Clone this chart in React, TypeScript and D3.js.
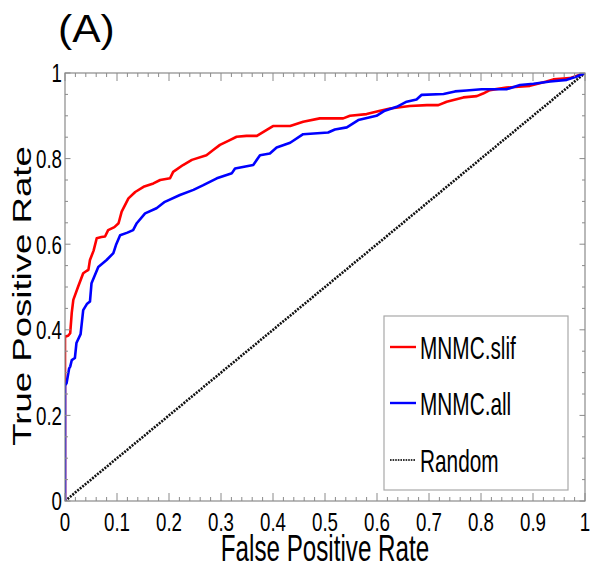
import React from "react";
import * as d3 from "d3";

// ---- data ----
const slifFpr = [0, 0, 0.006, 0.01, 0.013, 0.016, 0.025, 0.035, 0.042, 0.045, 0.048, 0.055, 0.061, 0.07, 0.077, 0.083, 0.095, 0.103, 0.109, 0.122, 0.135, 0.151, 0.17, 0.183, 0.202, 0.208, 0.227, 0.244, 0.272, 0.285, 0.298, 0.315, 0.33, 0.349, 0.369, 0.388, 0.4, 0.433, 0.458, 0.49, 0.535, 0.548, 0.58, 0.606, 0.625, 0.663, 0.696, 0.718, 0.734, 0.766, 0.792, 0.804, 0.817, 0.849, 0.894, 0.926, 0.939, 0.971, 1];
const slifTpr = [0, 0.384, 0.386, 0.392, 0.44, 0.47, 0.5, 0.532, 0.538, 0.54, 0.563, 0.585, 0.614, 0.617, 0.618, 0.633, 0.64, 0.649, 0.676, 0.707, 0.722, 0.734, 0.742, 0.75, 0.754, 0.769, 0.785, 0.797, 0.808, 0.82, 0.832, 0.842, 0.851, 0.853, 0.853, 0.867, 0.876, 0.876, 0.886, 0.894, 0.894, 0.9, 0.904, 0.912, 0.917, 0.923, 0.925, 0.925, 0.933, 0.943, 0.946, 0.952, 0.96, 0.966, 0.97, 0.98, 0.985, 0.988, 1];

const allFpr = [0, 0, 0.003, 0.008, 0.01, 0.013, 0.019, 0.022, 0.03, 0.035, 0.042, 0.048, 0.051, 0.064, 0.08, 0.093, 0.098, 0.106, 0.12, 0.131, 0.138, 0.154, 0.176, 0.192, 0.221, 0.247, 0.266, 0.292, 0.321, 0.327, 0.362, 0.375, 0.394, 0.407, 0.433, 0.458, 0.506, 0.519, 0.542, 0.564, 0.599, 0.615, 0.638, 0.657, 0.676, 0.686, 0.728, 0.75, 0.772, 0.801, 0.849, 0.875, 0.901, 0.933, 0.965, 0.984, 1];
const allTpr = [0, 0.27, 0.275, 0.31, 0.314, 0.329, 0.334, 0.369, 0.39, 0.446, 0.46, 0.466, 0.509, 0.547, 0.563, 0.579, 0.598, 0.621, 0.627, 0.633, 0.649, 0.672, 0.684, 0.699, 0.715, 0.727, 0.738, 0.754, 0.766, 0.777, 0.785, 0.808, 0.812, 0.826, 0.837, 0.857, 0.861, 0.868, 0.873, 0.89, 0.9, 0.912, 0.921, 0.933, 0.938, 0.949, 0.951, 0.957, 0.959, 0.962, 0.962, 0.972, 0.975, 0.98, 0.984, 0.992, 1];

const randomFpr = [0, 1];
const randomTpr = [0, 1];

const xTickValues = [0, 0.1, 0.2, 0.3, 0.4, 0.5, 0.6, 0.7, 0.8, 0.9, 1];
const xTickLabels = ["0", "0.1", "0.2", "0.3", "0.4", "0.5", "0.6", "0.7", "0.8", "0.9", "1"];
const yTickValues = [0, 0.2, 0.4, 0.6, 0.8, 1];
const yTickLabels = ["0", "0.2", "0.4", "0.6", "0.8", "1"];

const seriesNames = ["MNMC.slif", "MNMC.all", "Random"];

const FONT = "'Liberation Sans', Arial, Helvetica, sans-serif";

function SText({ x, y, size, sx = 1, anchor = "start", children }: any) {
  return (
    <text
      transform={`translate(${x},${y}) scale(${sx},1)`}
      fontSize={size}
      fontFamily={FONT}
      textAnchor={anchor}
      fill="#000"
    >
      {children}
    </text>
  );
}

export default function App() {
  const W = 592, H = 577;
  const L = 65, R = 585, T = 73, B = 501;
  const x = d3.scaleLinear().domain([0, 1]).range([L, R]);
  const y = d3.scaleLinear().domain([0, 1]).range([B, T]);

  const mk = (fx: number[], fy: number[]) =>
    d3.line<number>().x((_, i) => x(fx[i])).y((_, i) => y(fy[i]))(fx.map((_, i) => i)) || "";

  const xMinor = d3.range(0, 51).map((i) => i / 50);
  const yMinor = d3.range(0, 21).map((i) => i / 20);
  const axisCol = "#8a8a8a";

  const legendY = [347, 403, 460];
  const legendColors = ["#ff0000", "#0000ff", "#333"];

  return (
    <svg width={W} height={H} style={{ position: "absolute", left: 0, top: 0, background: "#fff" }}>
      <defs>
        <clipPath id="plotclip">
          <rect x={L} y={T} width={R - L} height={B - T} />
        </clipPath>
      </defs>

      {/* curves */}
      <g clipPath="url(#plotclip)" fill="none" strokeLinejoin="round">
        <path d={mk(randomFpr, randomTpr)} stroke="#111" strokeWidth={2.6} strokeDasharray="2 1.2" />
        <path d={mk(slifFpr, slifTpr)} stroke="#ff0000" strokeWidth={2.6} />
        <path d={mk(allFpr, allTpr)} stroke="#0000ff" strokeWidth={2.6} />
      </g>

      {/* frame */}
      <rect x={L} y={T} width={R - L} height={B - T} fill="none" stroke={axisCol} strokeWidth={1.2} />

      {/* x ticks (bottom & top) */}
      {xMinor.map((v, i) => {
        const len = i % 5 === 0 ? 8 : 4;
        const px = x(v);
        return (
          <g key={"xt" + i} stroke={axisCol} strokeWidth={1}>
            <line x1={px} x2={px} y1={B} y2={B - len} />
            <line x1={px} x2={px} y1={T} y2={T + len} />
          </g>
        );
      })}
      {/* y ticks (left & right) */}
      {yMinor.map((v, i) => {
        const len = i % 4 === 0 ? 5.5 : 3;
        const py = y(v);
        return (
          <g key={"yt" + i} stroke={axisCol} strokeWidth={1}>
            <line x1={L} x2={L + len} y1={py} y2={py} />
            <line x1={R} x2={R - len} y1={py} y2={py} />
          </g>
        );
      })}

      {/* tick labels */}
      {xTickValues.map((v, i) => (
        <SText key={"xl" + i} x={x(v)} y={531} size={26} sx={0.72} anchor="middle">
          {xTickLabels[i]}
        </SText>
      ))}
      {yTickValues.map((v, i) => (
        <SText key={"yl" + i} x={62} y={y(v) + 9.3} size={26} sx={0.72} anchor="end">
          {yTickLabels[i]}
        </SText>
      ))}

      {/* axis labels */}
      <SText x={(L + R) / 2} y={561} size={37.5} sx={0.645} anchor="middle">
        False Positive Rate
      </SText>
      <text
        transform={`translate(31,296) rotate(-90) scale(1,0.7)`}
        fontSize={36.6}
        fontFamily={FONT}
        textAnchor="middle"
        fill="#000"
      >
        True Positive Rate
      </text>

      {/* title */}
      <SText x={58} y={42} size={38} sx={1.12}>
        (A)
      </SText>

      {/* legend */}
      <rect x={384} y={316} width={184} height={174} fill="#fff" stroke="#a8a8a8" strokeWidth={1.2} />
      {seriesNames.map((name, i) => (
        <g key={"lg" + i}>
          <line
            x1={390}
            x2={416}
            y1={legendY[i]}
            y2={legendY[i]}
            stroke={legendColors[i]}
            strokeWidth={i === 2 ? 2.2 : 2.4}
            strokeDasharray={i === 2 ? "1.6 1" : undefined}
          />
          <SText x={420} y={legendY[i] + 11.5} size={32} sx={0.65}>
            {name}
          </SText>
        </g>
      ))}
    </svg>
  );
}
